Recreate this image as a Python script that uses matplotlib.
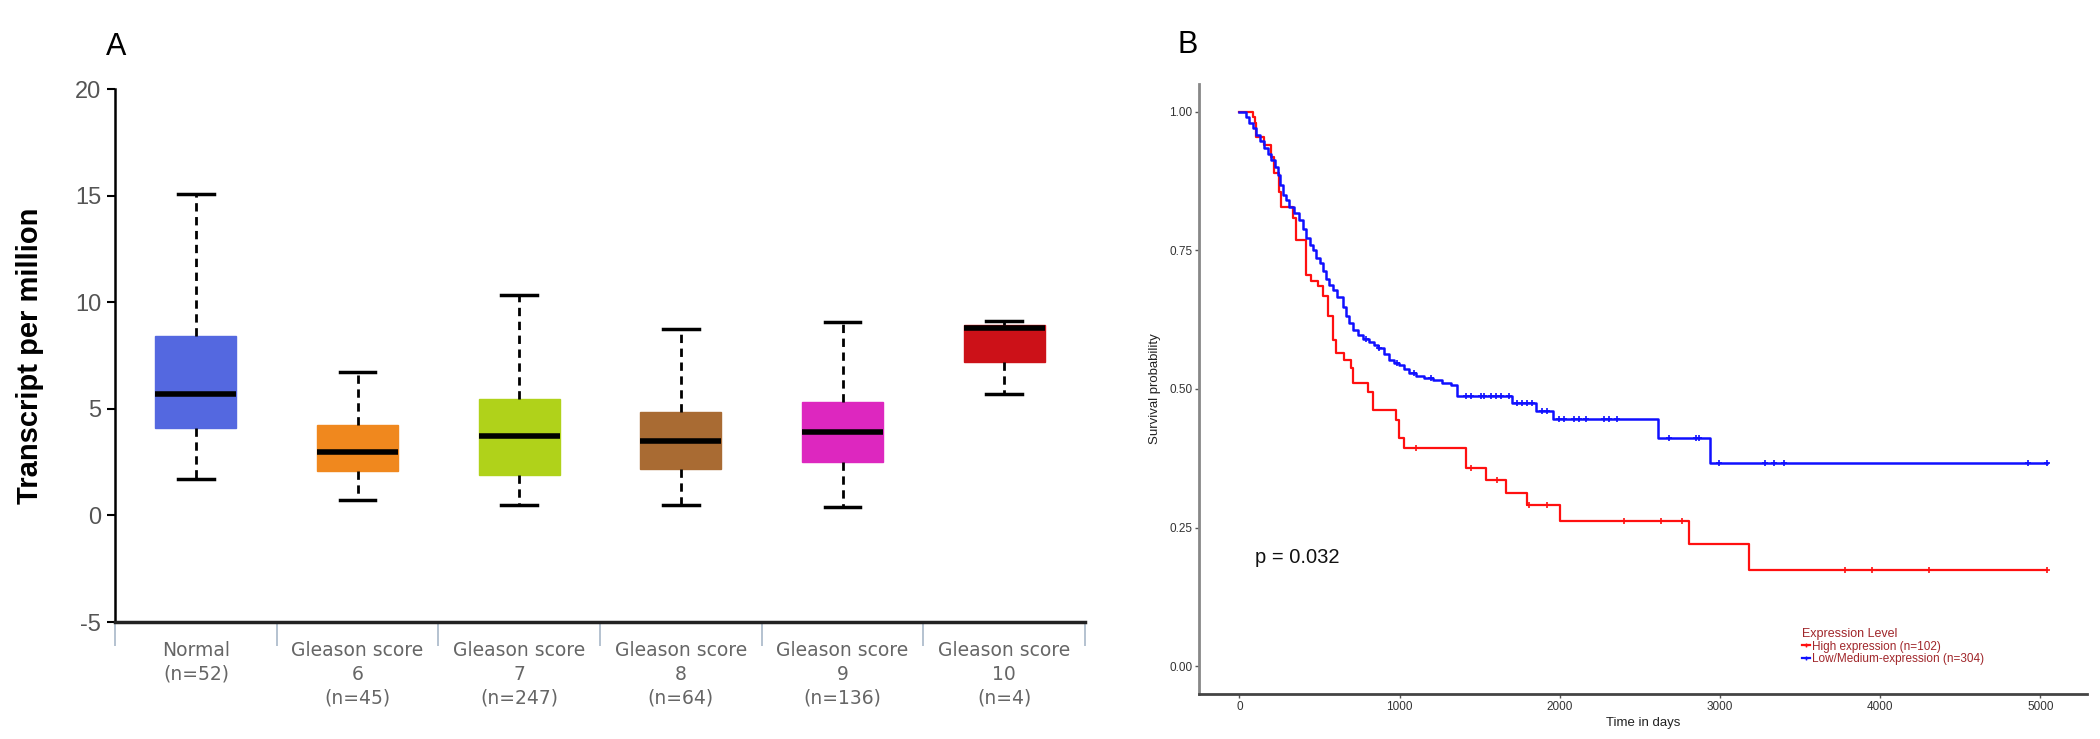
import matplotlib.pyplot as plt
import numpy as np

# ---- panel A: expression boxplot ----
groups = ["Normal\n(n=52)", "Gleason score\n6\n(n=45)", "Gleason score\n7\n(n=247)",
          "Gleason score\n8\n(n=64)", "Gleason score\n9\n(n=136)", "Gleason score\n10\n(n=4)"]
whislo = [1.70, 0.73, 0.49, 0.49, 0.38, 5.68]
q1 = [4.09, 2.10, 1.88, 2.17, 2.50, 7.20]
med = [5.68, 2.96, 3.73, 3.49, 3.93, 8.80]
q3 = [8.40, 4.24, 5.46, 4.86, 5.30, 8.95]
whishi = [15.07, 6.74, 10.34, 8.73, 9.06, 9.10]
box_colors = ["#5468E0", "#F0881E", "#B0D21A", "#A96B33", "#DD27BF", "#CC1118"]

# ---- panel B: Kaplan-Meier curves ----
high_t = [0, 83, 94, 104, 156, 198, 218, 249, 262, 332, 353, 416, 447, 489, 520, 551,
          582, 603, 655, 697, 707, 801, 832, 977, 997, 1029, 1414, 1541, 1662, 1795,
          2003, 2805, 3183, 5040]
high_s = [1.0, 0.99, 0.98, 0.955, 0.94, 0.919, 0.89, 0.855, 0.829, 0.808, 0.769, 0.706,
          0.694, 0.685, 0.667, 0.631, 0.589, 0.565, 0.552, 0.538, 0.511, 0.495, 0.462,
          0.444, 0.412, 0.393, 0.357, 0.336, 0.312, 0.29, 0.262, 0.220, 0.174, 0.174]
high_cens_t = [1101, 1444, 1609, 1808, 1921, 2400, 2631, 2762, 3782, 3948, 4306, 5040]

low_t = [0, 40, 62, 85, 104, 130, 156, 178, 198, 220, 239, 255, 270, 290, 312, 340, 374,
         395, 416, 440, 457, 478, 500, 520, 541, 560, 582, 610, 645, 665, 686, 710, 738,
         770, 811, 840, 862, 900, 935, 965, 997, 1030, 1060, 1100, 1153, 1210, 1267,
         1320, 1361, 1700, 1850, 1960, 2615, 2935, 5040]
low_s = [1.0, 0.99, 0.98, 0.97, 0.958, 0.947, 0.935, 0.924, 0.913, 0.90, 0.886, 0.868,
         0.85, 0.84, 0.829, 0.818, 0.805, 0.788, 0.773, 0.76, 0.75, 0.736, 0.727, 0.712,
         0.698, 0.688, 0.678, 0.665, 0.648, 0.632, 0.619, 0.607, 0.597, 0.59, 0.585,
         0.58, 0.574, 0.563, 0.552, 0.547, 0.543, 0.536, 0.529, 0.524, 0.52, 0.516,
         0.511, 0.507, 0.487, 0.475, 0.461, 0.446, 0.411, 0.366, 0.366]
low_cens_t = [790, 873, 985, 1091, 1195, 1413, 1444, 1507, 1528, 1569, 1600, 1631, 1683,
              1735, 1766, 1797, 1828, 1891, 1922, 1995, 2026, 2088, 2120, 2161, 2276,
              2307, 2357, 2681, 2847, 2868, 2992, 3283, 3335, 3398, 4925, 5040]


def surv_at(times, surv, t):
    idx = np.searchsorted(times, t, side="right") - 1
    return np.array(surv)[idx]


plt.rcParams["font.family"] = ["Liberation Sans", "DejaVu Sans"]
plt.rcParams["axes.unicode_minus"] = False
fig = plt.figure(figsize=(21, 7.39), dpi=100)

# ---------------- panel A ----------------
axA = fig.add_axes([0.0548, 0.1583, 0.4619, 0.7212])
stats = []
for i in range(len(groups)):
    stats.append({"whislo": whislo[i], "q1": q1[i], "med": med[i], "q3": q3[i],
                  "whishi": whishi[i], "fliers": []})
bp = axA.bxp(stats, positions=range(len(groups)), widths=0.5, patch_artist=True,
             showfliers=False,
             whiskerprops=dict(color="black", linewidth=2, linestyle=(0, (3, 2))),
             capprops=dict(color="black", linewidth=2.5),
             medianprops=dict(color="black", linewidth=4, solid_capstyle="butt"))
for patch, c in zip(bp["boxes"], box_colors):
    patch.set_facecolor(c)
    patch.set_edgecolor(c)
    patch.set_linewidth(1)
for cap in bp["caps"]:
    x = cap.get_xdata()
    mid = x.mean()
    cap.set_xdata([mid - 0.11, mid + 0.11])

axA.set_xlim(-0.5, 5.5)
axA.set_ylim(-5, 20)
axA.set_yticks([-5, 0, 5, 10, 15, 20])
axA.tick_params(axis="y", length=6, width=1.5, colors="black", labelsize=17,
                labelcolor="#555555", pad=4)
axA.set_xticks(range(len(groups)))
axA.set_xticklabels(groups, fontsize=13.5, color="#666666", linespacing=1.3,
                    family="DejaVu Sans")
axA.tick_params(axis="x", length=0, pad=14)
axA.set_xticks(np.arange(-0.5, 6, 1), minor=True)
axA.tick_params(axis="x", which="minor", length=17, width=1.2, color="#A8B8C8")
for s in ["top", "right"]:
    axA.spines[s].set_visible(False)
axA.spines["left"].set_linewidth(1.8)
axA.spines["bottom"].set_linewidth(2.5)
axA.spines["bottom"].set_color("#222222")
axA.set_ylabel("Transcript per million", fontsize=21, fontweight="bold", labelpad=22)

# ---------------- panel B ----------------
axB = fig.add_axes([0.571, 0.0609, 0.4229, 0.8255])
axB.step(high_t, high_s, where="post", color="#FF1010", linewidth=1.6)
axB.step(low_t, low_s, where="post", color="#1010FF", linewidth=1.8)
axB.plot(high_cens_t, surv_at(high_t, high_s, high_cens_t), "+", color="#FF1010",
         markersize=4, markeredgewidth=1.2)
axB.plot(low_cens_t, surv_at(low_t, low_s, low_cens_t), "+", color="#1010FF",
         markersize=4, markeredgewidth=1.2)

# legend handles
axB.plot([], [], color="#FF1010", marker="+", linewidth=1.6, label="High expression (n=102)")
axB.plot([], [], color="#1010FF", marker="+", linewidth=1.6,
         label="Low/Medium-expression (n=304)")
leg = axB.legend(title="Expression Level", loc="upper left", bbox_to_anchor=(0.672, 0.118),
                 frameon=False, fontsize=8.5, title_fontsize=9, handlelength=0.7,
                 handletextpad=0.2, labelspacing=0.05, borderpad=0, markerscale=0.6,
                 labelcolor="#A0262A", alignment="left")
leg.get_title().set_color("#A0262A")

axB.text(100, 0.197, "p = 0.032", fontsize=14.5, va="center", ha="left", color="#111111")

axB.set_xlim(-252, 5292)
axB.set_ylim(-0.05, 1.05)
axB.set_xticks([0, 1000, 2000, 3000, 4000, 5000])
axB.set_yticks([0, 0.25, 0.5, 0.75, 1.0])
axB.set_yticklabels(["0.00", "0.25", "0.50", "0.75", "1.00"])
axB.tick_params(length=3, width=1, colors="#555555", labelsize=8.5, labelcolor="#333333",
                pad=2)
for s in ["top", "right"]:
    axB.spines[s].set_visible(False)
axB.spines["left"].set_linewidth(2)
axB.spines["left"].set_color("#888888")
axB.spines["bottom"].set_linewidth(2)
axB.spines["bottom"].set_color("#444444")
axB.set_xlabel("Time in days", fontsize=9.5, color="#222222", labelpad=3)
axB.set_ylabel("Survival probability", fontsize=9.5, color="#222222", labelpad=6)

fig.text(0.0505, 0.9256, "A", fontsize=22, va="baseline", ha="left")
fig.text(0.5605, 0.928, "B", fontsize=22, va="baseline", ha="left")

fig.savefig("out.png", dpi=100)
